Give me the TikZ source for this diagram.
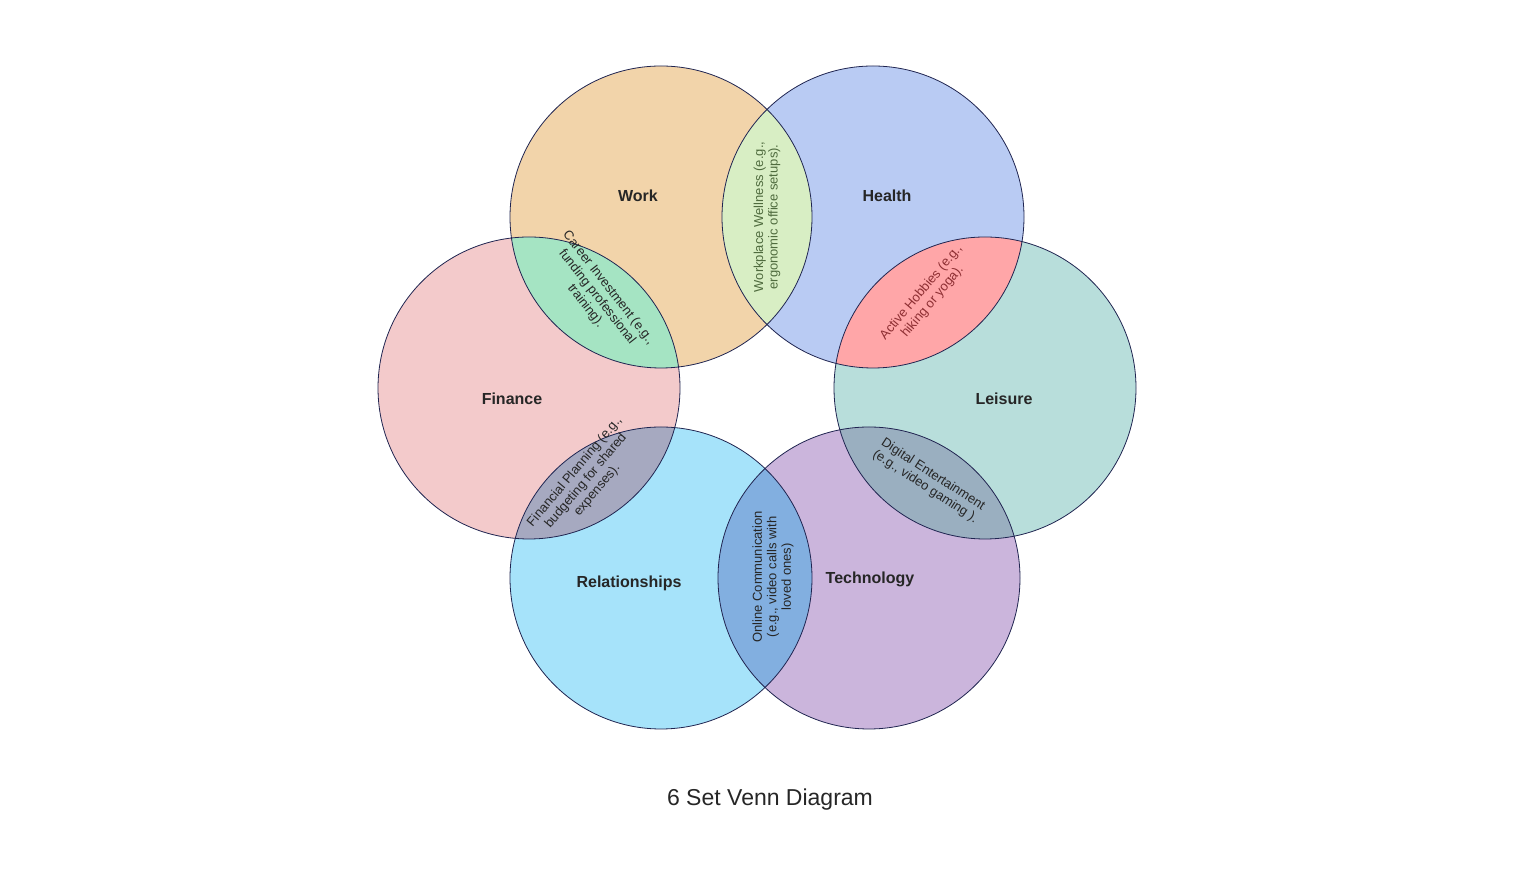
\documentclass[tikz,border=0pt]{standalone}
\usepackage{fontspec}
\setmainfont{Liberation Sans}
\usetikzlibrary{positioning}
\definecolor{work}{HTML}{F2D4AA}
\definecolor{health}{HTML}{B9CBF3}
\definecolor{finance}{HTML}{F3CACB}
\definecolor{leisure}{HTML}{B8DEDB}
\definecolor{relations}{HTML}{A6E3FA}
\definecolor{tech}{HTML}{CBB5DC}
\definecolor{workhealth}{HTML}{D8EEC4}
\definecolor{workfin}{HTML}{A5E4C3}
\definecolor{healthleis}{HTML}{FFA6A8}
\definecolor{finrel}{HTML}{A6A9C0}
\definecolor{leistech}{HTML}{9AAFC0}
\definecolor{reltech}{HTML}{82AFE0}
\definecolor{edge}{HTML}{1F2450}
\definecolor{greentext}{HTML}{4F6B3E}
\definecolor{redtext}{HTML}{8E2F33}
\tikzset{
  set/.style={draw=edge, line width=0.8pt},
  setname/.style={font=\bfseries\fontsize{16}{19}\selectfont, text=black!85},
  overlap/.style={font=\fontsize{13}{14.5}\selectfont, align=center, text=black!85, inner sep=0pt}
}
\newcommand{\lens}[3]{%
  \begin{scope}
    \clip (#1) circle (151);
    \fill[#3] (#2) circle (151);
  \end{scope}}
\begin{document}
\begin{tikzpicture}[x=1pt,y=1pt]
    \useasboundingbox (0,0) rectangle (1516,872);
    \coordinate (work) at (661,655);
    \coordinate (health) at (873,655);
    \coordinate (finance) at (529,484);
    \coordinate (leisure) at (985,484);
    \coordinate (relations) at (661,294);
    \coordinate (tech) at (869,294);

    \fill[work] (work) circle (151);
    \fill[health] (health) circle (151);
    \fill[finance] (finance) circle (151);
    \fill[leisure] (leisure) circle (151);
    \fill[relations] (relations) circle (151);
    \fill[tech] (tech) circle (151);

    \lens{work}{health}{workhealth}
    \lens{work}{finance}{workfin}
    \lens{health}{leisure}{healthleis}
    \lens{finance}{relations}{finrel}
    \lens{leisure}{tech}{leistech}
    \lens{relations}{tech}{reltech}

    \foreach \s in {work,health,finance,leisure,relations,tech}
      \draw[set] (\s) circle (151);

    \node[setname] (worklbl) at (638,676) {Work};
    \node[setname] (healthlbl) at (887,676) {Health};
    \node[setname] (finlbl) at (512,473) {Finance};
    \node[setname] (leislbl) at (1004,473) {Leisure};
    \node[setname] (rellbl) at (629,289) {Relationships};
    \node[setname] (techlbl) at (870,293) {Technology};

    \node[overlap, rotate=90, text=greentext] (wh) at (767,655)
      {Workplace Wellness (e.g.,\\ergonomic office setups).};
    \node[overlap, rotate=-52] (wf) at (597,575)
      {Career Investment (e.g.,\\funding professional\\training).};
    \node[overlap, rotate=50, text=redtext] (hl) at (927,575)
      {Active Hobbies (e.g.,\\hiking or yoga).};
    \node[overlap, rotate=50] (fr) at (586,391)
      {Financial Planning (e.g.,\\budgeting for shared\\expenses).};
    \node[overlap, rotate=-33] (lt) at (929,391)
      {Digital Entertainment\\(e.g., video gaming ).};
    \node[overlap, rotate=90] (rt) at (773,295)
      {Online Communication\\(e.g., video calls with\\loved ones)};

    \node[font=\fontsize{23}{27}\selectfont, text=black!85] (title) at (770,72)
      {6 Set Venn Diagram};
\end{tikzpicture}
\end{document}
